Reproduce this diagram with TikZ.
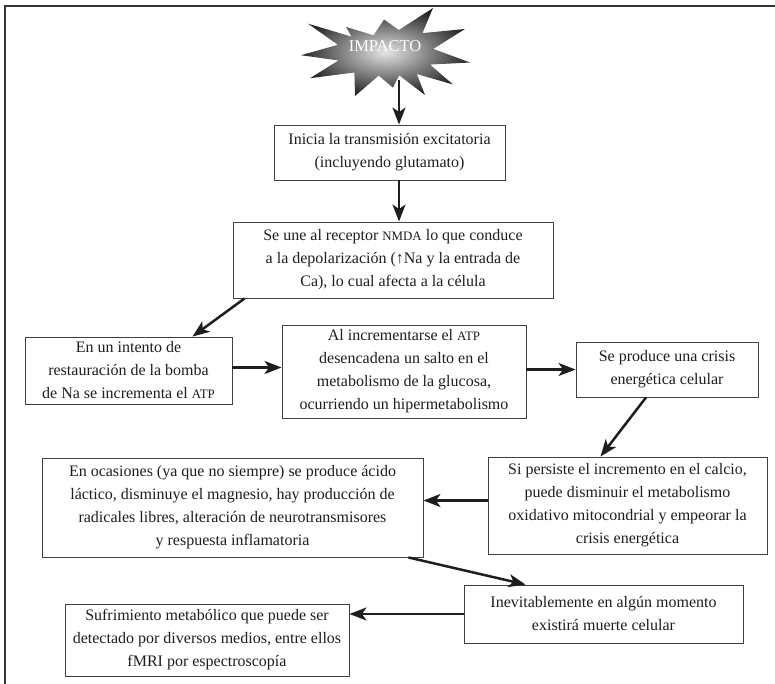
\documentclass[tikz,border=0pt]{standalone}
\usepackage{fontspec}
\setmainfont{Liberation Serif}
\usetikzlibrary{arrows.meta,calc}
\definecolor{ink}{HTML}{1E1E1E}
\newcommand\scaps[1]{{\fontsize{12.9}{12.9}\selectfont #1}}
\begin{document}
\begin{tikzpicture}[x=1pt,y=-1pt,
  box/.style={draw=ink!85, line width=0.9pt, fill=white, align=center,
    inner sep=0pt, text=ink, font=\fontsize{16}{23}\selectfont},
  arr/.style={draw=ink, line width=2.5pt, -{Stealth[length=17pt,width=13pt,inset=4.5pt]}}]
\useasboundingbox (0,0) rectangle (775,684);

% frame on top and left
\draw[ink!90, line width=1.5pt] (775,6) -- (5,6) -- (5,684);

% starburst
\begin{scope}[yshift=5pt]
\shade[inner color=gray!20, outer color=black!85]
  (301,60.2) -- (337.9,49.8) -- (308,28.7) -- (351.4,41.6) -- (346,31.9)
  -- (373.6,40.3) -- (384,24.5) -- (398.8,35) -- (433,13) -- (422.5,38.1)
  -- (465,34) -- (433.3,53.9) -- (470,67.5) -- (430,69.6) -- (453,89.5)
  -- (416.8,79) -- (425,100) -- (399.1,80.3) -- (393,92.7) -- (378.7,80.6)
  -- (355,101) -- (354.4,77.5) -- (310,83.2) -- (338.5,65.5) -- cycle;
\end{scope}
\node[text=white, font=\fontsize{16.5}{16.5}\selectfont] (star) at (385,46) {IMPACTO};
\coordinate (starbase) at (399,80);

% boxes
\node[box, minimum width=231, minimum height=55] (n1) at (389.5,152.5)
  {Inicia la transmisión excitatoria\\(incluyendo glutamato)};
\node[box, minimum width=320, minimum height=76] (n2) at (393,260)
  {Se une al receptor \scaps{NMDA} lo que conduce\\a la depolarización (↑Na y la entrada de\\Ca), lo cual afecta a la célula};
\node[box, minimum width=207, minimum height=67] (n3) at (128.5,370.5)
  {En un intento de\\restauración de la bomba\\de Na se incrementa el \scaps{ATP}};
\node[box, minimum width=244, minimum height=93] (n4) at (404,371.5)
  {Al incrementarse el \scaps{ATP}\\desencadena un salto en el\\metabolismo de la glucosa,\\ocurriendo un hipermetabolismo};
\node[box, minimum width=182, minimum height=55] (n5) at (667,369.5)
  {Se produce una crisis\\energética celular};
\node[box, minimum width=381, minimum height=99] (n6) at (232.5,507.5)
  {En ocasiones (ya que no siempre) se produce ácido\\láctico, disminuye el magnesio, hay producción de\\radicales libres, alteración de neurotransmisores\\y respuesta inflamatoria};
\node[box, minimum width=279, minimum height=97] (n7) at (627.5,505.5)
  {Si persiste el incremento en el calcio,\\puede disminuir el metabolismo\\oxidativo mitocondrial y empeorar la\\crisis energética};
\node[box, minimum width=279, minimum height=58] (n8) at (603.5,614)
  {Inevitablemente en algún momento\\existirá muerte celular};
\node[box, minimum width=284, minimum height=72] (n9) at (207,640)
  {Sufrimiento metabólico que puede ser\\detectado por diversos medios, entre ellos\\fMRI por espectroscopía};

% connectors
\draw[arr] (starbase) -- (starbase |- n1.north);
\draw[arr] (n1.south -| starbase) -- (n2.north -| starbase);
\draw[arr] ([xshift=12pt]n2.south west) -- ([xshift=-40pt]n3.north east);
\draw[arr] ([yshift=3pt]n3.east) -- ([yshift=3pt]n3.east -| n4.west);
\draw[arr] (n5.west -| n4.east) -- (n5.west);
\draw[arr] ([xshift=-21pt]n5.south) -- ([xshift=-27pt]n7.north);
\draw[arr] ([yshift=5pt]n7.west) -- ([yshift=5pt]n7.west -| n6.east);
\draw[arr] ([xshift=-15pt]n6.south east) -- ([xshift=62pt]n8.north west);
\draw[arr] (n8.west) -- (n8.west -| n9.east);
\end{tikzpicture}
\end{document}
